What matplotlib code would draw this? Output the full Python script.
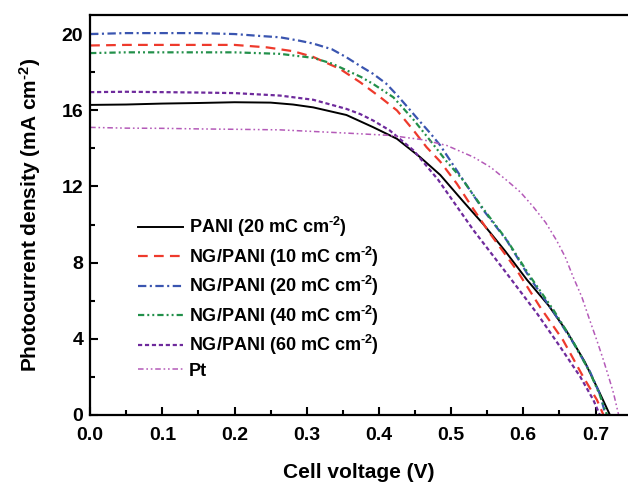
import matplotlib
matplotlib.use("Agg")
import matplotlib.pyplot as plt
from matplotlib.ticker import MultipleLocator

plt.rcParams['font.family'] = ['Liberation Sans', 'DejaVu Sans']
plt.rcParams['font.weight'] = 'bold'
plt.rcParams['mathtext.fontset'] = 'custom'
plt.rcParams['mathtext.bf'] = 'Liberation Sans:bold'
plt.rcParams['mathtext.rm'] = 'Liberation Sans:bold'
plt.rcParams['mathtext.default'] = 'bf'
plt.rcParams['lines.scale_dashes'] = False

# J-V curves: cell voltage (V) vs photocurrent density (mA cm^-2)
v_pani = [0, 0.05, 0.1, 0.15, 0.2, 0.25, 0.281, 0.309, 0.355, 0.392, 0.425, 0.457,
          0.485, 0.517, 0.545, 0.575, 0.605, 0.635, 0.66, 0.685, 0.706, 0.72]
j_pani = [16.28, 16.3, 16.35, 16.38, 16.42, 16.4, 16.3, 16.15, 15.75, 15.11, 14.5, 13.54,
          12.6, 11.2, 10.0, 8.6, 7.1, 5.75, 4.4, 2.8, 1.14, 0]

v_ng10 = [0, 0.05, 0.1, 0.15, 0.2, 0.245, 0.281, 0.309, 0.346, 0.374, 0.402, 0.425,
          0.448, 0.466, 0.485, 0.508, 0.531, 0.554, 0.591, 0.623, 0.655, 0.683, 0.702, 0.711]
j_ng10 = [19.4, 19.43, 19.43, 19.43, 19.43, 19.3, 19.1, 18.8, 18.17, 17.47, 16.68, 15.99,
          14.94, 14.06, 13.3, 12.14, 10.8, 9.52, 7.6, 5.68, 3.93, 2.0, 0.79, 0]

v_ng20 = [0, 0.05, 0.1, 0.15, 0.2, 0.235, 0.263, 0.29, 0.309, 0.335, 0.355, 0.375,
          0.392, 0.41, 0.425, 0.44, 0.457, 0.471, 0.485, 0.512, 0.545, 0.577, 0.609,
          0.642, 0.669, 0.692, 0.706, 0.714]
j_ng20 = [20.0, 20.05, 20.05, 20.05, 20.0, 19.9, 19.83, 19.65, 19.5, 19.2, 18.78, 18.3,
          17.91, 17.4, 16.8, 16.15, 15.4, 14.8, 14.15, 12.6, 10.74, 9.17, 7.2,
          5.4, 3.8, 2.3, 1.1, 0]

v_ng40 = [0, 0.05, 0.1, 0.15, 0.2, 0.263, 0.309, 0.335, 0.355, 0.375, 0.392, 0.42,
          0.448, 0.471, 0.494, 0.515, 0.545, 0.577, 0.609, 0.642, 0.669, 0.692, 0.706, 0.716]
j_ng40 = [19.0, 19.04, 19.04, 19.04, 19.04, 18.96, 18.75, 18.45, 18.1, 17.75, 17.38, 16.68,
          15.5, 14.41, 13.3, 12.4, 10.8, 9.2, 7.3, 5.5, 3.85, 2.25, 1.05, 0]

v_ng60 = [0, 0.05, 0.1, 0.15, 0.2, 0.263, 0.309, 0.355, 0.374, 0.392, 0.415, 0.448,
          0.482, 0.531, 0.577, 0.619, 0.651, 0.679, 0.697, 0.706]
j_ng60 = [16.95, 16.97, 16.95, 16.93, 16.9, 16.77, 16.55, 16.07, 15.8, 15.46, 14.94, 13.89,
          12.35, 9.7, 7.43, 5.33, 3.58, 2.0, 0.79, 0]

v_pt = [0, 0.05, 0.1, 0.15, 0.2, 0.263, 0.355, 0.415, 0.461, 0.494, 0.531, 0.555,
        0.577, 0.596, 0.614, 0.631, 0.646, 0.658, 0.669, 0.681, 0.692, 0.702, 0.711,
        0.719, 0.725, 0.732]
j_pt = [15.1, 15.06, 15.05, 15.02, 15.0, 14.97, 14.8, 14.68, 14.45, 14.15, 13.54, 13.0,
        12.32, 11.7, 10.92, 10.1, 9.17, 8.3, 7.25, 6.2, 4.98, 3.9, 2.88,
        1.9, 1.14, 0]

sup = r"$^{\text{-}2}$"
labels = ["PANI (20 mC cm" + sup + ")", "NG/PANI (10 mC cm" + sup + ")",
          "NG/PANI (20 mC cm" + sup + ")", "NG/PANI (40 mC cm" + sup + ")",
          "NG/PANI (60 mC cm" + sup + ")", "Pt"]
x_ticks = [0, 0.1, 0.2, 0.3, 0.4, 0.5, 0.6, 0.7]
x_tick_labels = ["0.0", "0.1", "0.2", "0.3", "0.4", "0.5", "0.6", "0.7"]

fig = plt.figure(figsize=(6.28, 4.84), dpi=100)
ax = fig.add_axes([0.1435, 0.1426, 1 - 0.1435, 0.969 - 0.1426])

ax.plot(v_pani, j_pani, color='black', lw=1.4, label=labels[0])
ax.plot(v_ng10, j_ng10, color='#ee3a2c', lw=1.6, ls=(0, (7, 4.5)), label=labels[1])
ax.plot(v_ng20, j_ng20, color='#3a55b0', lw=1.6, ls=(0, (6, 2.5, 1.5, 2.5)), label=labels[2])
ax.plot(v_ng40, j_ng40, color='#22904a', lw=1.6, ls=(0, (4.5, 2.2, 1.4, 2.2, 1.4, 2.2)), label=labels[3])
ax.plot(v_ng60, j_ng60, color='#6e2a9c', lw=1.6, ls=(0, (3, 2)), label=labels[4])
ax.plot(v_pt, j_pt, color='#b45ab8', lw=1.1, ls=(0, (4, 2, 1.2, 2, 1.2, 2)), label=labels[5])

ax.set_xlim(0, 0.745)
ax.set_ylim(0, 21)
ax.set_xticks(x_ticks)
ax.set_xticklabels(x_tick_labels)
ax.xaxis.set_minor_locator(MultipleLocator(0.05))
ax.yaxis.set_major_locator(MultipleLocator(4))
ax.yaxis.set_minor_locator(MultipleLocator(2))

ax.spines['right'].set_visible(False)
for s in ('left', 'bottom', 'top'):
    ax.spines[s].set_linewidth(1.6)
ax.tick_params(which='both', direction='in', width=1.5, labelsize=14, top=False, right=False)
ax.tick_params(which='major', length=6)
ax.tick_params(which='minor', length=3.5)
ax.tick_params(axis='x', pad=9)
ax.tick_params(axis='y', pad=5)

ax.set_xlabel("Cell voltage (V)", fontsize=15, fontweight='bold', labelpad=13.5)
ax.set_ylabel("Photocurrent density (mA cm" + sup + ")", fontsize=15, fontweight='bold', labelpad=13)

leg = ax.legend(loc='upper left', bbox_to_anchor=(0.089, 0.5), frameon=False,
                fontsize=13, handlelength=2.5, handletextpad=0.3,
                labelspacing=0.3, borderpad=0, borderaxespad=0)
for t in leg.get_texts():
    t.set_fontweight('bold')

fig.savefig("out.png", dpi=100)
